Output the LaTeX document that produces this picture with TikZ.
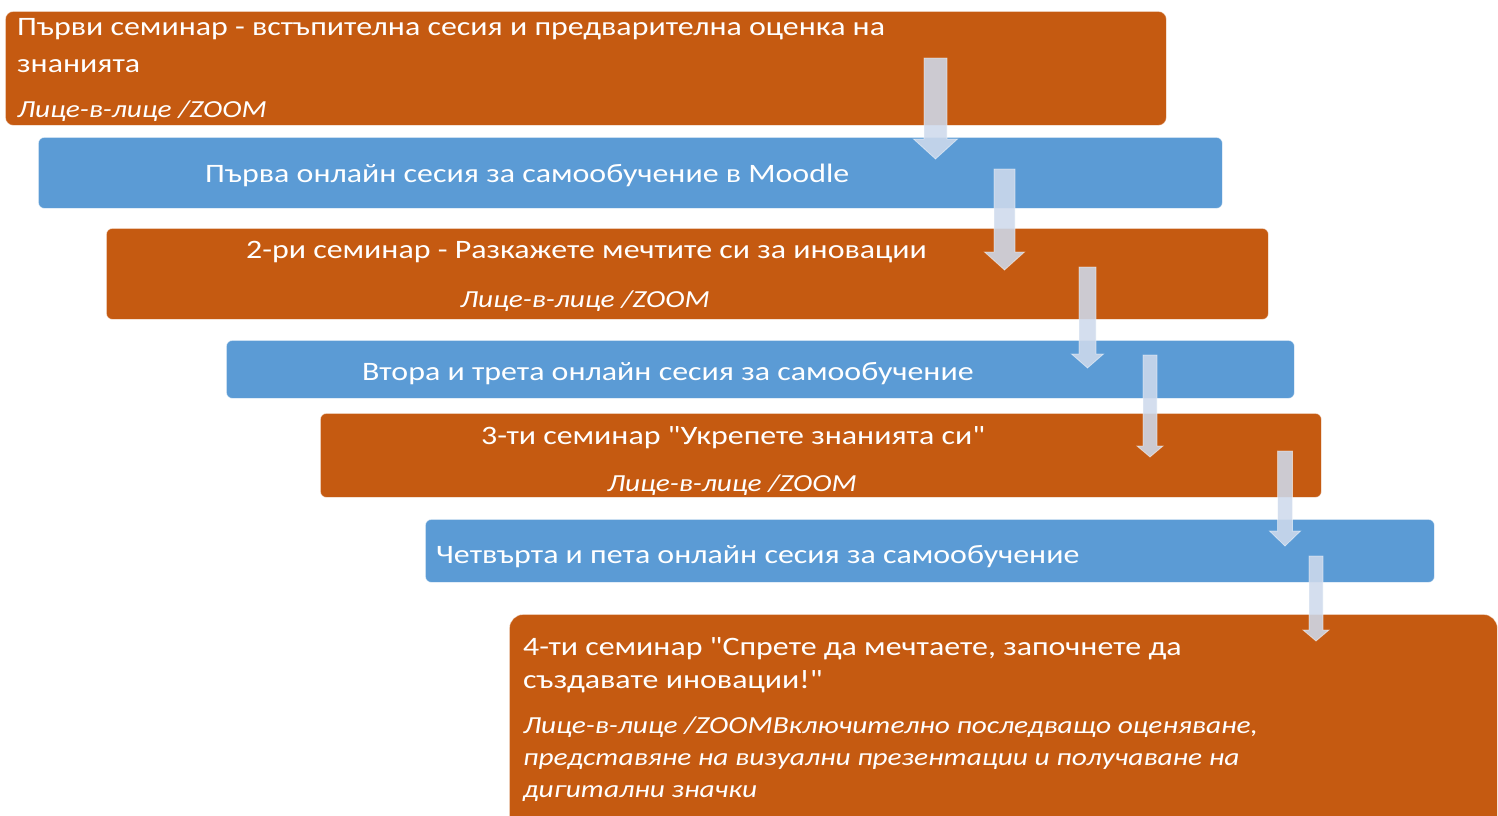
\documentclass[tikz,border=0pt]{standalone}
\usepackage{fontspec}
\newfontfamily\labfont{Carlito}[FakeStretch=1.2]
\definecolor{orng}{RGB}{197,90,17}
\definecolor{blu}{RGB}{91,155,213}
\definecolor{arrfill}{RGB}{206,218,236}
\tikzset{
  stage/.style={draw=white, draw opacity=0.5, line width=0.8pt, rounded corners=6pt, anchor=north west, inner sep=0pt},
  semi/.style={stage, fill=orng},
  online/.style={stage, fill=blu},
  lbl/.style={text=white, font=\labfont\fontsize{26.6}{32}\selectfont, inner sep=0pt, anchor=base west},
  sub/.style={lbl, font=\labfont\fontsize{24.5}{32}\selectfont\itshape},
  flow/.style={fill=arrfill, fill opacity=0.88, draw=white, draw opacity=0.5, line width=0.8pt},
}
\newcommand\flowarrow[6]{%
  \draw[flow] ({#1-#4},#2) -- ({#1+#4},#2) -- ({#1+#4},#6) -- ({#1+#5},#6) -- (#1,#3)
    -- ({#1-#5},#6) -- ({#1-#4},#6) -- cycle;}
\begin{document}
\begin{tikzpicture}[x=1pt,y=-1pt]
\useasboundingbox (0,0) rectangle (1498,815);
\clip (0,0) rectangle (1498,815);
% stages
\node[semi, rounded corners=8pt, minimum width=1161pt, minimum height=114pt] (s1) at (5,11) {};
\node[online, minimum width=1184pt, minimum height=71pt] (s2) at (38,137) {};
\node[semi, minimum width=1162pt, minimum height=91pt] (s3) at (106,228) {};
\node[online, minimum width=1068pt, minimum height=58pt] (s4) at (226,340) {};
\node[semi, minimum width=1001pt, minimum height=84pt] (s5) at (320,413) {};
\node[online, minimum width=1009pt, minimum height=63pt] (s6) at (425,519) {};
\node[semi, rounded corners=14pt, minimum width=988pt, minimum height=220pt] (s7) at (509,614) {};
% arrows
\flowarrow{935.5}{58}{159}{11.5}{22}{139}
\flowarrow{1004.5}{169}{270}{10.5}{20}{252}
\flowarrow{1087.5}{267}{368}{8.5}{16}{354}
\flowarrow{1150}{355}{457}{7}{13}{446}
\flowarrow{1285}{451}{546}{7.5}{15.5}{531}
\flowarrow{1316}{556}{641}{7}{13}{630}
% texts
\node[lbl] (t1a) at (17,35) {Първи семинар - встъпителна сесия и предварителна оценка на};
\node[lbl] (t1b) at (17,72) {знанията};
\node[sub] (t1c) at (17,117) {Лице-в-лице /ZOOM};
\node[lbl] (t2) at (205,182) {Първа онлайн сесия за самообучение в Moodle};
\node[lbl] (t3a) at (246,258) {2-ри семинар - Разкажете мечтите си за иновации};
\node[sub] (t3b) at (460,307) {Лице-в-лице /ZOOM};
\node[lbl] (t4) at (362,380) {Втора и трета онлайн сесия за самообучение};
\node[lbl] (t5a) at (481,444) {3-ти семинар "Укрепете знанията си"};
\node[sub] (t5b) at (607,491) {Лице-в-лице /ZOOM};
\node[lbl] (t6) at (436,563) {Четвърта и пета онлайн сесия за самообучение};
\node[lbl] (t7a) at (523,655) {4-ти семинар "Спрете да мечтаете, започнете да};
\node[lbl] (t7b) at (523,688) {създавате иновации!"};
\node[sub] (t7c) at (523,733) {Лице-в-лице /ZOOMВключително последващо оценяване,};
\node[sub] (t7d) at (523,765) {представяне на визуални презентации и получаване на};
\node[sub] (t7e) at (523,797) {дигитални значки};
\end{tikzpicture}
\end{document}
